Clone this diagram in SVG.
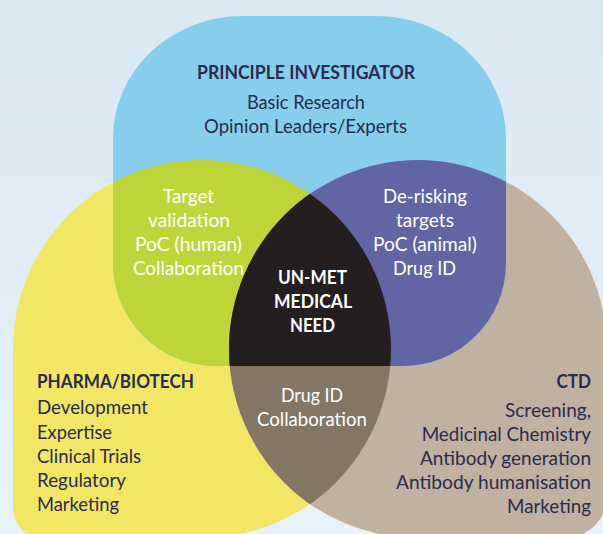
<svg xmlns="http://www.w3.org/2000/svg" width="603" height="534" viewBox="0 0 603 534">
<style>
text{font-family:"Lato","Liberation Sans",sans-serif;font-size:18.5px}
.b{font-weight:bold}
.d{fill:#2b2b4e}
.w{fill:#ffffff}
</style>
<defs>
<linearGradient id="bg" x1="0" y1="0" x2="0" y2="1">
<stop offset="0" stop-color="#dbe9f3"/>
<stop offset="1" stop-color="#e7f2fa"/>
</linearGradient>
<path id="pBlue" d="M113,138 A130,122 0 0 1 243,16 L376,16 A130,122 0 0 1 506,138 L506,263 A103,103 0 0 1 403,366 L216,366 A103,103 0 0 1 113,263 Z"/>
<path id="pYellow" d="M13,349 A189,189 0 0 1 202,160 A189,189 0 0 1 391,349 A189,189 0 0 1 202,538 L43,538 A30,30 0 0 1 13,508 Z"/>
<path id="pTan" d="M229,349 A189,189 0 0 1 418,160 A189,189 0 0 1 607,349 L607,496 A42,42 0 0 1 565,538 L418,538 A189,189 0 0 1 229,349 Z"/>
<clipPath id="cBlue"><use href="#pBlue"/></clipPath>
<clipPath id="cYellow"><use href="#pYellow"/></clipPath>
<clipPath id="cTan"><use href="#pTan"/></clipPath>
</defs>
<rect x="0" y="0" width="603" height="534" fill="url(#bg)"/>

<g id="pharma-biotech">
<use href="#pYellow" fill="#f2e765"/>
<text class="b d" x="37" y="388" textLength="157" lengthAdjust="spacingAndGlyphs">PHARMA/BIOTECH</text>
<text class="d" x="37" y="414" textLength="111" lengthAdjust="spacingAndGlyphs">Development</text>
<text class="d" x="37" y="438.5" textLength="75" lengthAdjust="spacingAndGlyphs">Expertise</text>
<text class="d" x="37" y="462.5" textLength="104" lengthAdjust="spacingAndGlyphs">Clinical Trials</text>
<text class="d" x="37" y="486.5" textLength="89" lengthAdjust="spacingAndGlyphs">Regulatory</text>
<text class="d" x="37" y="510.5" textLength="82" lengthAdjust="spacingAndGlyphs">Marketing</text>
</g>

<g id="ctd">
<use href="#pTan" fill="#c1b1a0"/>
<text class="b d" x="556.5" y="388" textLength="34.5" lengthAdjust="spacingAndGlyphs">CTD</text>
<text class="d" x="505" y="416.5" textLength="86" lengthAdjust="spacingAndGlyphs">Screening,</text>
<text class="d" x="421.7" y="440.5" textLength="169.3" lengthAdjust="spacingAndGlyphs">Medicinal Chemistry</text>
<text class="d" x="420" y="464.5" textLength="171" lengthAdjust="spacingAndGlyphs">Antibody generation</text>
<text class="d" x="396" y="488.5" textLength="195" lengthAdjust="spacingAndGlyphs">Antibody humanisation</text>
<text class="d" x="507" y="512.5" textLength="84" lengthAdjust="spacingAndGlyphs">Marketing</text>
</g>

<g id="principle-investigator">
<use href="#pBlue" fill="#87ceec"/>
<text class="b d" x="197" y="79" textLength="218" lengthAdjust="spacingAndGlyphs">PRINCIPLE INVESTIGATOR</text>
<text class="d" x="247" y="109" textLength="118" lengthAdjust="spacingAndGlyphs">Basic Research</text>
<text class="d" x="204" y="133" textLength="203" lengthAdjust="spacingAndGlyphs">Opinion Leaders/Experts</text>
</g>

<g id="overlap-pi-pharma">
<use href="#pYellow" fill="#bed63a" clip-path="url(#cBlue)"/>
<text class="w" x="163" y="203" textLength="51" lengthAdjust="spacingAndGlyphs">Target</text>
<text class="w" x="148" y="227" textLength="82" lengthAdjust="spacingAndGlyphs">validation</text>
<text class="w" x="135" y="251" textLength="107" lengthAdjust="spacingAndGlyphs">PoC (human)</text>
<text class="w" x="133" y="275" textLength="111" lengthAdjust="spacingAndGlyphs">Collaboration</text>
</g>

<g id="overlap-pi-ctd">
<use href="#pTan" fill="#6265a3" clip-path="url(#cBlue)"/>
<text class="w" x="383" y="203" textLength="84" lengthAdjust="spacingAndGlyphs">De-risking</text>
<text class="w" x="396" y="227" textLength="58" lengthAdjust="spacingAndGlyphs">targets</text>
<text class="w" x="373" y="251" textLength="104" lengthAdjust="spacingAndGlyphs">PoC (animal)</text>
<text class="w" x="393" y="275" textLength="63" lengthAdjust="spacingAndGlyphs">Drug ID</text>
</g>

<g id="overlap-pharma-ctd">
<use href="#pTan" fill="#857564" clip-path="url(#cYellow)"/>
<text class="w" x="281" y="402" textLength="62" lengthAdjust="spacingAndGlyphs">Drug ID</text>
<text class="w" x="257" y="426" textLength="110" lengthAdjust="spacingAndGlyphs">Collaboration</text>
</g>

<g id="unmet-medical-need">
<g clip-path="url(#cBlue)">
<use href="#pTan" fill="#231f20" clip-path="url(#cYellow)"/>
</g>
<text class="b w" x="278" y="284" textLength="69" lengthAdjust="spacingAndGlyphs">UN-MET</text>
<text class="b w" x="274" y="308" textLength="78" lengthAdjust="spacingAndGlyphs">MEDICAL</text>
<text class="b w" x="290" y="332" textLength="45" lengthAdjust="spacingAndGlyphs">NEED</text>
</g>
</svg>
